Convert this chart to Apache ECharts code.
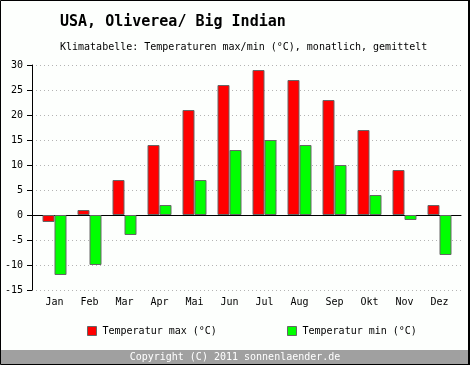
<!DOCTYPE html>
<html>
<head>
<meta charset="utf-8">
<script src="https://cdn.jsdelivr.net/npm/echarts@6/dist/echarts.min.js"></script>
<style>
html,body{margin:0;padding:0;background:#fdfffd;}
#c{width:470px;height:365px;}
</style>
</head>
<body>
<div id="c"></div>
<script>
const months = ['Jan','Feb','Mar','Apr','Mai','Jun','Jul','Aug','Sep','Okt','Nov','Dez'];
const tempMax = [-1.4, 1, 7, 14, 21, 26, 29, 27, 23, 17, 9, 2];
const tempMin = [-12, -10, -4, 2, 7, 13, 15, 14, 10, 4, -1, -8];
const yTicks = [-15, -10, -5, 0, 5, 10, 15, 20, 25, 30];
const titleText = 'USA, Oliverea/ Big Indian';
const subtitleText = 'Klimatabelle: Temperaturen max/min (°C), monatlich, gemittelt';
const footerText = 'Copyright (C) 2011 sonnenlaender.de';
const nameMax = 'Temperatur max (°C)';
const nameMin = 'Temperatur min (°C)';

const FONT = 'DejaVu Sans Mono';
const chart = echarts.init(document.getElementById('c'), null, {renderer: 'canvas'});
const yMin = yTicks[0], yMax = yTicks[yTicks.length - 1];

chart.setOption({
  animation: false,
  backgroundColor: '#fdfffd',
  textStyle: {fontFamily: FONT},
  grid: [
    {left: 32, right: 9, top: 65, bottom: 75},
    {left: 37, right: 13, top: 65, bottom: 75}
  ],
  xAxis: [
    {
      gridIndex: 0, type: 'category', data: months,
      axisLine: {show: true, onZero: true, lineStyle: {color: '#000', width: 1}},
      axisTick: {show: false}, axisLabel: {show: false}, splitLine: {show: false}
    },
    {
      gridIndex: 1, type: 'category', data: months,
      axisLine: {show: false, onZero: false},
      axisTick: {show: false},
      axisLabel: {show: true, margin: 7, color: '#000', fontFamily: FONT, fontSize: 10}
    }
  ],
  yAxis: [
    {
      gridIndex: 0, type: 'value', min: yMin, max: yMax, interval: 5,
      axisLine: {show: true, lineStyle: {color: '#000', width: 1}},
      axisTick: {show: true, length: 5, lineStyle: {color: '#000'}},
      axisLabel: {margin: 9, color: '#000', fontFamily: FONT, fontSize: 10},
      splitLine: {show: true, lineStyle: {color: '#b4b4b4', type: [1, 3], width: 1}}
    },
    {
      gridIndex: 1, type: 'value', min: yMin, max: yMax, interval: 5,
      show: false, splitLine: {show: false}
    }
  ],
  legend: [
    {
      data: [nameMax], left: 82, top: 321, itemWidth: 9, itemHeight: 9, itemGap: 0,
      icon: 'rect', selectedMode: false,
      textStyle: {fontFamily: FONT, fontSize: 10, color: '#000', padding: [0, 0, 0, 1]},
      itemStyle: {borderColor: '#666', borderWidth: 1}
    },
    {
      data: [nameMin], left: 282, top: 321, itemWidth: 9, itemHeight: 9, itemGap: 0,
      icon: 'rect', selectedMode: false,
      textStyle: {fontFamily: FONT, fontSize: 10, color: '#000', padding: [0, 0, 0, 1]},
      itemStyle: {borderColor: '#666', borderWidth: 1}
    }
  ],
  series: [
    {
      name: nameMax, type: 'bar', xAxisIndex: 1, yAxisIndex: 1, data: tempMax,
      barWidth: 12, barGap: '0%',
      itemStyle: {color: '#ff0000', borderColor: '#666', borderWidth: 1}
    },
    {
      name: nameMin, type: 'bar', xAxisIndex: 1, yAxisIndex: 1, data: tempMin,
      barWidth: 12, barGap: '0%',
      itemStyle: {color: '#00ff00', borderColor: '#666', borderWidth: 1}
    }
  ],
  graphic: [
    {type: 'rect', shape: {x: 1, y: 350, width: 467, height: 14}, style: {fill: '#a0a0a0'}, z: 1},
    {type: 'text', x: 235, y: 357, z: 2, style: {text: footerText, fill: '#fff', font: '10px ' + FONT, align: 'center', verticalAlign: 'middle'}},
    {type: 'text', x: 60, y: 22, z: 2, style: {text: titleText, fill: '#000', font: 'bold 15px ' + FONT, align: 'left', verticalAlign: 'middle'}},
    {type: 'text', x: 60, y: 47, z: 2, style: {text: subtitleText, fill: '#000', font: '10px ' + FONT, align: 'left', verticalAlign: 'middle'}},
    {type: 'rect', shape: {x: 0.5, y: 0.5, width: 468, height: 364}, style: {fill: null, stroke: '#000', lineWidth: 1}, z: 3},
    {type: 'rect', shape: {x: 468, y: 0, width: 2, height: 365}, style: {fill: '#000'}, z: 3}
  ]
});
</script>
</body>
</html>
